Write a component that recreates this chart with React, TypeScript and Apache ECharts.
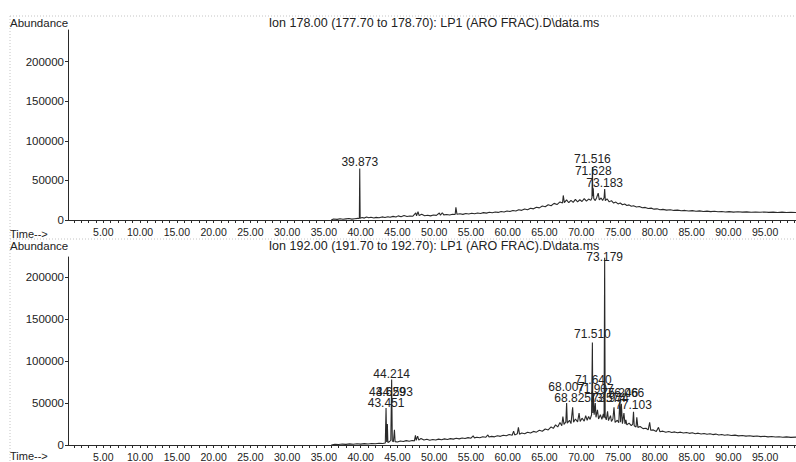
import React, { useEffect, useRef } from "react";
import * as echarts from "echarts";

// ---- tick labels ----
const xLabelTimes = [5, 10, 15, 20, 25, 30, 35, 40, 45, 50, 55, 60, 65, 70, 75, 80, 85, 90, 95];
const yLabelValues = [0, 50000, 100000, 150000, 200000];

// ---- titles ----
const topTitle = "Ion 178.00 (177.70 to 178.70): LP1 (ARO FRAC).D\\data.ms";
const botTitle = "Ion 192.00 (191.70 to 192.70): LP1 (ARO FRAC).D\\data.ms";

// ---- Ion 178 trace [time, abundance] ----
const topTrace: [number, number][] = [
  [36.0, 0], [36.3, 1200], [36.8, 800], [37.2, 1500], [37.6, 900], [38.0, 1400], [38.4, 1800], [38.8, 1100],
  [39.2, 1600], [39.6, 2000], [39.82, 1800], [39.873, 65000], [39.93, 2200], [40.2, 3200], [40.5, 2400],
  [40.8, 3800], [41.1, 2900], [41.4, 3500], [41.8, 2600], [42.1, 3300], [42.5, 2800], [42.9, 3900], [43.3, 3100],
  [43.7, 4200], [44.0, 3500], [44.4, 4600], [44.8, 3800], [45.1, 5200], [45.5, 4100], [45.9, 5600], [46.3, 4400],
  [46.7, 5100], [47.1, 4800], [47.5, 9000], [47.6, 5200], [47.8, 10500], [47.95, 5600], [48.3, 7200], [48.7, 5400],
  [49.1, 6000], [49.5, 5200], [49.9, 6300], [50.3, 5900], [50.7, 8800], [50.85, 6100], [51.1, 9200], [51.3, 6500],
  [51.7, 7000], [52.1, 6400], [52.5, 7300], [52.85, 6900], [52.95, 16000], [53.1, 7200], [53.5, 7800], [53.9, 7100],
  [54.3, 8200], [54.7, 7600], [55.1, 8500], [55.5, 7900], [55.9, 8800], [56.3, 8300], [56.7, 9300], [57.1, 8700],
  [57.5, 9800], [57.9, 9100], [58.3, 10200], [58.7, 9600], [59.1, 10800], [59.5, 10100], [59.9, 11400],
  [60.3, 10700], [60.7, 12100], [61.1, 11300], [61.5, 12900], [61.9, 12200], [62.3, 13800], [62.7, 13000],
  [63.1, 14900], [63.5, 14100], [63.9, 16200], [64.3, 15300], [64.7, 17600], [65.1, 16700], [65.5, 19200],
  [65.9, 18000], [66.3, 21000], [66.7, 19500], [67.1, 22800], [67.45, 21500], [67.55, 31000], [67.7, 22000],
  [68.0, 25500], [68.3, 21800], [68.6, 24800], [68.9, 22300], [69.2, 26000], [69.5, 22900], [69.8, 25600],
  [70.1, 23400], [70.4, 27000], [70.7, 23800], [71.0, 26500], [71.3, 24800], [71.45, 28000], [71.516, 67000],
  [71.57, 30000], [71.628, 40000], [71.7, 27000], [71.9, 24500], [72.1, 28500], [72.3, 34000], [72.45, 25500],
  [72.7, 27800], [72.9, 24600], [73.1, 28000], [73.183, 39000], [73.27, 24500], [73.5, 26800], [73.8, 22900],
  [74.1, 24500], [74.4, 21400], [74.7, 22600], [75.0, 20300], [75.3, 21500], [75.6, 19300], [75.9, 20200],
  [76.2, 18400], [76.5, 19100], [76.8, 17300], [77.1, 17900], [77.5, 16400], [77.9, 17000], [78.3, 15400],
  [78.7, 15900], [79.1, 14500], [79.5, 15000], [79.9, 13700], [80.3, 14100], [80.7, 13000], [81.1, 13400],
  [81.6, 12500], [82.1, 12900], [82.6, 12100], [83.1, 12500], [83.6, 11700], [84.1, 12100], [84.6, 11400],
  [85.1, 11800], [85.6, 11100], [86.1, 11500], [86.6, 10800], [87.1, 11200], [87.6, 10600], [88.1, 11000],
  [88.6, 10400], [89.1, 10800], [89.6, 10200], [90.1, 10600], [90.7, 10000], [91.3, 10400], [91.9, 9900],
  [92.5, 10300], [93.1, 9800], [93.7, 10200], [94.3, 9700], [94.9, 10100], [95.5, 9600], [96.1, 10000],
  [96.7, 9500], [97.3, 9900], [97.9, 9400], [98.5, 9800], [99.2, 9500],
];

// ---- Ion 192 trace [time, abundance] ----
const botTrace: [number, number][] = [
  [36.0, 0], [36.5, 900], [37.0, 600], [37.5, 1100], [38.0, 800], [38.5, 1300], [39.0, 900], [39.5, 1400],
  [40.0, 1000], [40.5, 1600], [41.0, 1200], [41.5, 1800], [42.0, 1400], [42.5, 2100], [43.0, 1700],
  [43.35, 2300], [43.451, 44000], [43.53, 3500], [43.629, 25000], [43.7, 3000], [43.95, 4200], [44.1, 6000],
  [44.214, 78000], [44.3, 5000], [44.45, 3800], [44.593, 18000], [44.68, 4000], [45.0, 3600], [45.4, 4800],
  [45.8, 4100], [46.2, 5200], [46.6, 4500], [47.0, 5400], [47.3, 4900], [47.45, 11500], [47.55, 5600],
  [47.75, 10500], [47.9, 5800], [48.2, 7800], [48.6, 5900], [49.0, 6800], [49.4, 5700], [49.8, 6600],
  [50.2, 5900], [50.6, 7000], [51.0, 6200], [51.4, 7300], [51.8, 6600], [52.2, 7600], [52.6, 7000],
  [53.0, 8000], [53.4, 7300], [53.8, 8400], [54.2, 7700], [54.6, 8800], [55.0, 8100], [55.3, 11000],
  [55.45, 8500], [55.8, 9300], [56.2, 8700], [56.6, 9800], [57.0, 9200], [57.3, 12000], [57.45, 9500],
  [57.8, 10300], [58.2, 9700], [58.6, 11000], [59.0, 10300], [59.4, 11700], [59.8, 11000], [60.2, 12500],
  [60.6, 11600], [60.8, 16500], [60.95, 12000], [61.3, 13300], [61.45, 21000], [61.6, 12900], [61.9, 14200],
  [62.3, 13400], [62.7, 15100], [63.1, 14300], [63.5, 16200], [63.9, 15300], [64.3, 17500], [64.7, 16400],
  [65.1, 19000], [65.5, 17900], [65.9, 21500], [66.2, 19800], [66.5, 24000], [66.8, 21500], [67.1, 26800],
  [67.35, 23000], [67.5, 34000], [67.65, 24500], [67.9, 27500], [68.007, 50000], [68.1, 26000], [68.4, 29500],
  [68.6, 25500], [68.825, 45000], [68.95, 27000], [69.2, 31000], [69.5, 27500], [69.7, 38000], [69.85, 28000],
  [70.1, 32000], [70.4, 28500], [70.6, 35000], [70.8, 29500], [71.0, 34000], [71.2, 30500], [71.4, 36000],
  [71.51, 122000], [71.57, 38000], [71.64, 62000], [71.75, 36000], [71.907, 50000], [72.0, 33000],
  [72.2, 42000], [72.35, 31000], [72.6, 36000], [72.8, 30500], [73.0, 37000], [73.1, 32000], [73.179, 223000],
  [73.25, 34000], [73.4, 30000], [73.574, 40000], [73.7, 29000], [73.974, 35000], [74.1, 28000], [74.3, 31000],
  [74.45, 45000], [74.6, 27000], [74.9, 29500], [75.1, 26500], [75.246, 53500], [75.35, 27000], [75.45, 49000],
  [75.6, 25500], [75.8, 38000], [75.95, 25000], [76.066, 30000], [76.2, 24000], [76.5, 26000], [76.8, 23000],
  [77.0, 25000], [77.103, 39600], [77.2, 23000], [77.45, 21500], [77.55, 33000], [77.7, 21000], [78.0, 22000],
  [78.4, 19500], [78.8, 20000], [79.1, 18000], [79.3, 27000], [79.45, 17500], [79.8, 18000], [80.2, 16200],
  [80.5, 21000], [80.7, 15800], [81.1, 16500], [81.5, 15200], [81.9, 16000], [82.3, 14900], [82.7, 15600],
  [83.1, 14600], [83.5, 15300], [83.9, 14300], [84.3, 14900], [84.7, 13900], [85.1, 14500], [85.5, 13500],
  [85.9, 14100], [86.3, 13100], [86.7, 13800], [87.1, 12800], [87.5, 13400], [87.9, 12400], [88.3, 13000],
  [88.7, 12000], [89.1, 12600], [89.5, 11700], [89.9, 12200], [90.4, 11300], [90.9, 11800], [91.4, 10900],
  [91.9, 11400], [92.4, 10600], [92.9, 11000], [93.4, 10300], [93.9, 10700], [94.4, 10000], [94.9, 10400],
  [95.4, 9700], [95.9, 10100], [96.4, 9500], [96.9, 9900], [97.4, 9300], [97.9, 9700], [98.5, 9100], [99.2, 9400],
];

// ---- labelled peaks ----
const topPeakTimes = [39.873, 71.516, 71.628, 73.183];
const topPeakHeights = [65000, 67000, 40000, 39000];
const botPeakTimes = [43.451, 43.629, 44.214, 44.593, 68.007, 68.825, 71.51, 71.64, 71.907, 73.179, 73.574, 73.974, 75.246, 76.066, 77.103];
const botPeakHeights = [44000, 25000, 78000, 18000, 50000, 45000, 122000, 62000, 50000, 223000, 40000, 35000, 53500, 30000, 39600];

// label vertical nudges (px, style only)
const topLabelDy = [0, -1, -11, 0];
const botLabelDy = [1.5, -25.5, 1, -31.4, -9.5, -2.7, -2, -6.4, -7.5, 6, -6.9, -11.1, -0.6, -20.3, -0.2];

const FONT = "'Liberation Sans', Arial, sans-serif";
const INK = "#222";
const LINE = "#2a2a2a";

function markPoints(times: number[], heights: number[], dy: number[]) {
  return {
    symbol: "circle",
    symbolSize: 0,
    silent: true,
    itemStyle: { color: "transparent" },
    label: {
      show: true,
      position: "top",
      distance: 0,
      color: INK,
      fontFamily: FONT,
      fontSize: 12,
      lineHeight: 13,
    },
    data: times.map((t, i) => ({
      coord: [t, heights[i]],
      value: t,
      label: { formatter: t.toFixed(3), offset: [0, dy[i]] },
    })),
  };
}

function xAxis(gridIndex: number) {
  return {
    type: "value",
    gridIndex,
    min: 0.2,
    max: 99.2,
    axisLine: { show: true, lineStyle: { color: LINE, width: 1 } },
    axisTick: {
      show: true,
      length: 3,
      lineStyle: { color: LINE },
      customValues: Array.from({ length: 99 }, (_, i) => i + 1),
    },
    axisLabel: {
      show: true,
      customValues: xLabelTimes,
      formatter: (v: number) => v.toFixed(2),
      color: INK,
      fontFamily: FONT,
      fontSize: 10.5,
      margin: 6,
    },
    splitLine: { show: false },
  };
}

function yAxis(gridIndex: number, max: number) {
  return {
    type: "value",
    gridIndex,
    min: 0,
    max,
    axisLine: { show: true, lineStyle: { color: LINE, width: 1 } },
    axisTick: { show: true, length: 3, lineStyle: { color: LINE }, customValues: yLabelValues },
    axisLabel: {
      show: true,
      customValues: yLabelValues,
      formatter: (v: number) => String(v),
      color: INK,
      fontFamily: FONT,
      fontSize: 11.5,
      margin: 4,
    },
    splitLine: { show: false },
  };
}

const txt = (x: number, y: number, text: string, align: string, size: number) => ({
  type: "text",
  x,
  y,
  style: { text, fill: INK, font: `${size}px ${FONT}`, textAlign: align, textVerticalAlign: "middle" },
  silent: true,
});

const dotted = (x1: number, y1: number, x2: number, y2: number) => ({
  type: "line",
  shape: { x1, y1, x2, y2 },
  style: { stroke: "#c4c4c4", lineWidth: 1, lineDash: [1, 2] },
  silent: true,
});

export default function App() {
  const ref = useRef<HTMLDivElement>(null);
  useEffect(() => {
    if (!ref.current) return;
    const chart = echarts.init(ref.current, null, { renderer: "svg" });
    chart.setOption({
      animation: false,
      backgroundColor: "#ffffff",
      grid: [
        { left: 68, right: 0, top: 30, height: 190 },
        { left: 68, right: 0, top: 257, height: 188 },
      ],
      xAxis: [xAxis(0), xAxis(1)],
      yAxis: [yAxis(0, 240000), yAxis(1, 224000)],
      series: [
        {
          type: "line",
          xAxisIndex: 0,
          yAxisIndex: 0,
          data: topTrace,
          showSymbol: false,
          symbol: "none",
          lineStyle: { color: LINE, width: 1.1 },
          markPoint: markPoints(topPeakTimes, topPeakHeights, topLabelDy),
        },
        {
          type: "line",
          xAxisIndex: 1,
          yAxisIndex: 1,
          data: botTrace,
          showSymbol: false,
          symbol: "none",
          lineStyle: { color: LINE, width: 1.1 },
          markPoint: markPoints(botPeakTimes, botPeakHeights, botLabelDy),
        },
      ],
      graphic: [
        dotted(10, 16, 796, 16),
        dotted(10, 16, 10, 462),
        dotted(10, 239, 796, 239),
        txt(10, 23, "Abundance", "left", 11.5),
        txt(434, 23, topTitle, "center", 12.5),
        txt(10, 234, "Time-->", "left", 11),
        txt(10, 246, "Abundance", "left", 11.5),
        txt(434, 246, botTitle, "center", 12.5),
        txt(10, 456, "Time-->", "left", 11),
      ],
    });
    return () => chart.dispose();
  }, []);
  return <div ref={ref} style={{ position: "fixed", left: 0, top: 0, width: 796, height: 462, background: "#fff" }} />;
}
